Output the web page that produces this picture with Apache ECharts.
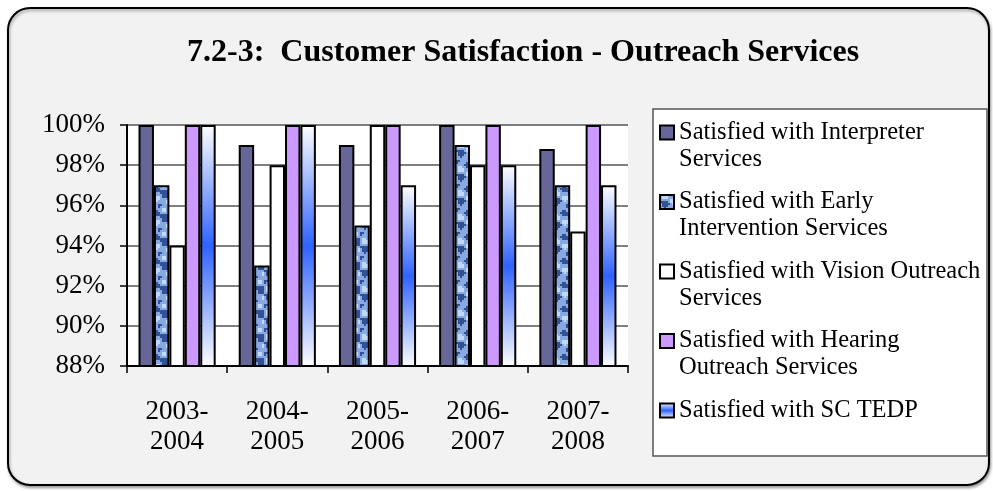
<!DOCTYPE html>
<html lang="en">
<head>
    <meta charset="UTF-8">
    <title>Customer Satisfaction - Outreach Services</title>
    <script type="text/javascript" src="https://cdn.jsdelivr.net/npm/echarts@6/dist/echarts.min.js"></script>
    <style>
        html, body { margin: 0; padding: 0; background: #fff; }
    </style>
</head>
<body>
    <div id="main" style="width:993px;height:491px;"></div>
<script type="text/javascript">
    // data
    var years = ['2003-\n2004', '2004-\n2005', '2005-\n2006', '2006-\n2007', '2007-\n2008'];
    var seriesNames = [
        'Satisfied with Interpreter Services',
        'Satisfied with Early Intervention Services',
        'Satisfied with Vision Outreach Services',
        'Satisfied with Hearing Outreach Services',
        'Satisfied with SC TEDP'
    ];
    // legend text, broken the way the original wraps it
    var legendLines = [
        'Satisfied with Interpreter\nServices',
        'Satisfied with Early\nIntervention Services',
        'Satisfied with Vision Outreach\nServices',
        'Satisfied with Hearing\nOutreach Services',
        'Satisfied with SC TEDP\n '
    ];
    var interpreter  = [100, 99, 99, 100, 98.8];
    var earlyInterv  = [97, 93, 95, 99, 97];
    var visionOut    = [94, 98, 100, 98, 94.7];
    var hearingOut   = [100, 100, 100, 100, 100];
    var scTedp       = [100, 100, 97, 98, 97];
    var yTicks = [88, 90, 92, 94, 96, 98, 100];

    // mottled blue fill for the early intervention bars
    function makeTexture(){
        var c = document.createElement('canvas');
        c.width = 24; c.height = 24;
        var ctx = c.getContext('2d');
        ctx.fillStyle = '#88a9e2';
        ctx.fillRect(0, 0, 24, 24);
        for(var y = 0; y < 12; y++){
            for(var x = 0; x < 12; x++){
                var v = Math.sin(x * 1.05 + y * 0.52) + Math.cos(y * 1.1 - x * 0.4) + Math.sin((x - y) * 0.52);
                if(v < -0.8){
                    ctx.fillStyle = 'rgba(30,60,130,0.8)';
                    ctx.fillRect(x * 2, y * 2, 2, 2);
                }else if(v > 1.3){
                    ctx.fillStyle = 'rgba(200,222,252,0.9)';
                    ctx.fillRect(x * 2, y * 2, 2, 2);
                }
            }
        }
        return c;
    }

    var serif = 'Liberation Serif';
    var fills = [
        '#666699',
        {image: makeTexture(), repeat: 'repeat'},
        '#ffffff',
        '#cc99ff',
        {type: 'linear', x: 0, y: 0, x2: 0, y2: 1, colorStops: [
            {offset: 0, color: '#ffffff'},
            {offset: 0.5, color: '#2f63ff'},
            {offset: 1, color: '#ffffff'}
        ]}
    ];
    var values = [interpreter, earlyInterv, visionOut, hearingOut, scTedp];

    var series = [];
    for(var i = 0; i < values.length; i++){
        series.push({
            name: seriesNames[i],
            type: 'bar',
            data: values[i],
            barGap: '0%',
            barCategoryGap: '23%',
            itemStyle: {color: fills[i], borderColor: '#000', borderWidth: 2},
            silent: true
        });
    }

    var legendData = [];
    for(var k = 0; k < seriesNames.length; k++){
        legendData.push({name: seriesNames[k]});
    }

    var myChart = echarts.init(document.getElementById('main'), null, {renderer: 'canvas'});
    var option = {
        animation: false,
        backgroundColor: '#ffffff',
        graphic: [
            {   // rounded panel behind everything
                type: 'rect', z: -10, silent: true,
                shape: {x: 8, y: 8, width: 981, height: 477, r: 22},
                style: {fill: '#f2f2f2', stroke: '#000', lineWidth: 2,
                        shadowColor: 'rgba(0,0,0,0.35)', shadowBlur: 3, shadowOffsetX: 1, shadowOffsetY: 2}
            },
            {   // legend frame
                type: 'rect', z: -5, silent: true,
                shape: {x: 653, y: 109, width: 334, height: 347},
                style: {fill: '#ffffff', stroke: '#555', lineWidth: 1.5}
            }
        ],
        title: {
            text: '7.2-3:  Customer Satisfaction - Outreach Services',
            left: 182,
            top: 32,
            textStyle: {fontFamily: serif, fontWeight: 'bold', fontSize: 32, color: '#000'}
        },
        legend: {
            orient: 'vertical',
            left: 659,
            top: 92,
            padding: 0,
            itemWidth: 14,
            itemHeight: 14,
            itemGap: -11.5,
            icon: 'rect',
            data: legendData,
            selectedMode: false,
            // blank first line keeps the marker level with the first text line
            formatter: function(name){
                return '\n' + legendLines[seriesNames.indexOf(name)];
            },
            textStyle: {fontFamily: serif, fontSize: 24.5, color: '#000', lineHeight: 27}
        },
        grid: {
            left: 127, top: 125, right: 365, bottom: 125,
            show: true, backgroundColor: '#ffffff', borderWidth: 0
        },
        xAxis: {
            type: 'category',
            data: years,
            axisLine: {lineStyle: {color: '#000', width: 2}},
            axisTick: {show: true, length: 7, interval: 0, lineStyle: {color: '#000', width: 1.5}},
            axisLabel: {fontFamily: serif, fontSize: 27, lineHeight: 30, color: '#000', margin: 31, interval: 0},
            z: 10
        },
        yAxis: {
            type: 'value',
            min: yTicks[0],
            max: yTicks[yTicks.length - 1],
            interval: 2,
            axisLine: {show: true, lineStyle: {color: '#000', width: 2}},
            axisTick: {show: true, length: 7, lineStyle: {color: '#000', width: 1.5}},
            axisLabel: {fontFamily: serif, fontSize: 27, color: '#000', margin: 22,
                        formatter: function(v){ return v + '%'; }},
            splitLine: {show: true, lineStyle: {color: '#555', width: 1.5}}
        },
        series: series
    };
    myChart.setOption(option);
</script>
</body>
</html>
